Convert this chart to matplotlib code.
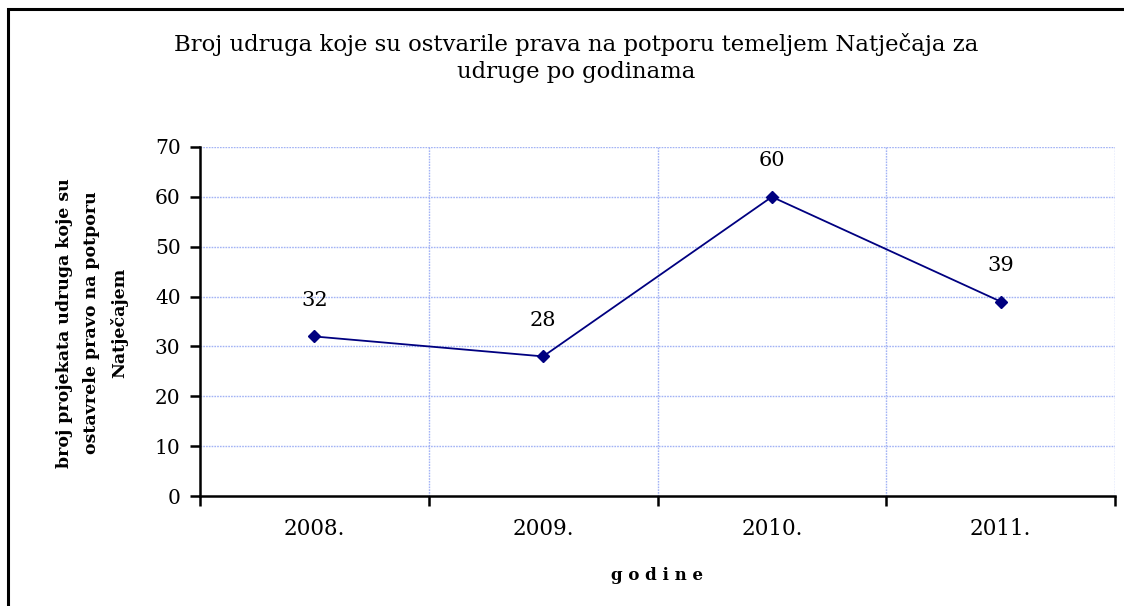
import matplotlib
matplotlib.use("Agg")
import matplotlib.pyplot as plt
from matplotlib.patches import Rectangle

years = ["2008.", "2009.", "2010.", "2011."]
values = [32, 28, 60, 39]
yticks = [0, 10, 20, 30, 40, 50, 60, 70]

plt.rcParams['font.family'] = ['DejaVu Serif']
plt.rcParams['font.serif'] = ['DejaVu Serif']
FF = 'DejaVu Serif'

W, H = 1124, 606
fig = plt.figure(figsize=(W / 100, H / 100), dpi=100)

# outer border (only left/top visible in reference)
fig.patches.append(Rectangle((8 / W, -0.1), 1.2, 1 - 9 / H + 0.1, transform=fig.transFigure,
                             fill=False, edgecolor='black', linewidth=2.2))

ax = fig.add_axes([200 / W, 1 - 496 / H, (1115 - 200) / W, (496 - 147) / H])
x = list(range(len(years)))
ax.plot(x, values, color='#000080', linewidth=1.3, marker='D', markersize=6.5, zorder=3)
for xi, v in zip(x, values):
    ax.annotate(str(v), (xi, v), xytext=(0, 26), textcoords='offset points',
                ha='center', va='center', fontsize=15, fontfamily=FF)

ax.set_xlim(-0.5, len(years) - 0.5)
ax.set_ylim(0, 70)
ax.set_yticks(yticks)
ax.set_yticklabels([str(t) for t in yticks], fontsize=14.5, fontfamily=FF)
ax.set_xticks([i - 0.5 for i in range(len(years) + 1)])
ax.set_xticklabels([])
ax.set_xticks(x, minor=True)
ax.set_xticklabels(years, minor=True, fontsize=15.5, fontfamily=FF)
ax.tick_params(axis='x', which='minor', length=0, pad=16)
ax.tick_params(axis='x', which='major', length=7, width=1.8, direction='out')
ax.tick_params(axis='y', length=7, width=1.8, direction='out', pad=7)

for yt in yticks[1:]:
    ax.axhline(yt, color='#a3b3f5', linewidth=1.0, linestyle=(0, (1.2, 0.8)), zorder=1)
for xv in [0.5, 1.5, 2.5, 3.5]:
    ax.axvline(xv, color='#a3b3f5', linewidth=1.0, linestyle=(0, (1.2, 0.8)), zorder=1)

for s in ['top', 'right']:
    ax.spines[s].set_visible(False)
ax.spines['left'].set_linewidth(1.8)
ax.spines['bottom'].set_linewidth(1.8)

fig.text(657 / W, 1 - 576 / H, "g o d i n e", ha='center', va='center',
         fontsize=12, fontweight='bold', fontfamily=FF)
fig.text(92 / W, 1 - 323 / H,
         "broj projekata udruga koje su\nostavrele pravo na potporu\nNatječajem",
         ha='center', va='center', rotation=90, fontsize=12.5, fontweight='bold',
         fontfamily=FF, linespacing=1.75, multialignment='center')

fig.text(576 / W, 1 - 58 / H,
         "Broj udruga koje su ostvarile prava na potporu temeljem Natječaja za\nudruge po godinama",
         ha='center', va='center', fontsize=16.4, linespacing=1.25, fontfamily=FF)

fig.savefig("out.png", dpi=100)
